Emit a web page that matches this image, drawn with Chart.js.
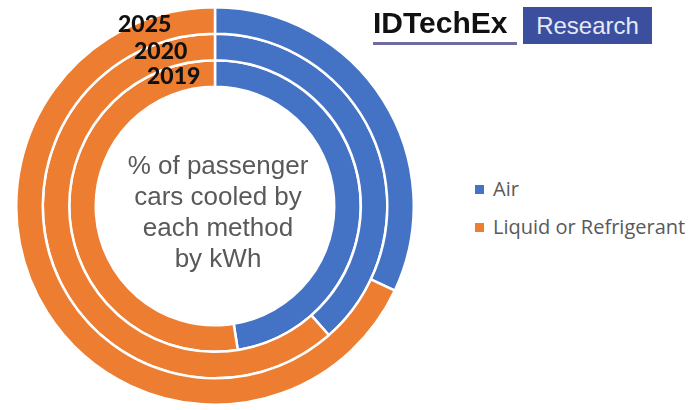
<!DOCTYPE html>
<html>
<head>
<meta charset="utf-8">
<script src="https://cdn.jsdelivr.net/npm/chart.js@4"></script>
<style>
  body { margin: 0; width: 690px; height: 410px; background: #fff; position: relative; overflow: hidden; }
  #ring { position: absolute; left: 15px; top: 6px; }
  .t { position: absolute; white-space: nowrap; }
  .year { font-family: Lato, sans-serif; font-weight: 900; font-size: 23px; color: #111; line-height: 1; }
  #center { left: 98px; top: 150px; width: 240px; text-align: center; font-family: "Liberation Sans", Arial, sans-serif; font-size: 26px; line-height: 31px; color: #595959; }
  .leg { font-family: "Open Sans", sans-serif; font-size: 20px; color: #595959; line-height: 1; }
  .leg i { display: inline-block; width: 9px; height: 9px; margin-right: 9px; vertical-align: 2px; }
  #logo { left: 373px; top: 8px; font-family: "Liberation Sans", Arial, sans-serif; font-weight: 700; font-size: 30px; color: #111; line-height: 1; }
  #uline { left: 373px; top: 42px; width: 144px; height: 3px; background: #6f6c9f; }
  #box { left: 523px; top: 7px; width: 129px; height: 37px; background: #3c4f9f; color: #e4e9f6; font-family: "Liberation Sans", Arial, sans-serif; font-size: 24px; line-height: 37px; text-align: center; }
</style>
</head>
<body>
<canvas id="ring" width="400" height="400"></canvas>
<div class="t year" style="left:118px; top:12px;">2025</div>
<div class="t year" style="left:134px; top:39px;">2020</div>
<div class="t year" style="left:147px; top:64px;">2019</div>
<div class="t" id="center">% of passenger<br>cars cooled by<br>each method<br>by kWh</div>
<div class="t leg" style="left:475px; top:179px;"><i style="background:#4472c4"></i>Air</div>
<div class="t leg" style="left:475px; top:217px;"><i style="background:#ed7d31"></i>Liquid or Refrigerant</div>
<div class="t" id="logo">IDTechEx</div>
<div class="t" id="uline"></div>
<div class="t" id="box">Research</div>
<script>
const methods = ['Air', 'Liquid or Refrigerant']
const years = ['2025', '2020', '2019']
const air = [32, 38.5, 47.5]
const liquid = [68, 61.5, 52.5]
const colors = ['#4472c4', '#ed7d31']

const ctx = document.getElementById('ring').getContext('2d')

let ringChart = new Chart(ctx, {
    type: 'doughnut',
    data: {
        labels: methods,
        datasets: years.map((y, i) => ({
            label: y,
            data: [air[i], liquid[i]],
            backgroundColor: colors,
            borderColor: '#fff',
            borderWidth: 2.5
        }))
    },
    options: {
        responsive: false,
        animation: false,
        cutout: '60%',
        plugins: {
            legend: { display: false },
            tooltip: { enabled: false }
        }
    }
})
</script>
</body>
</html>
